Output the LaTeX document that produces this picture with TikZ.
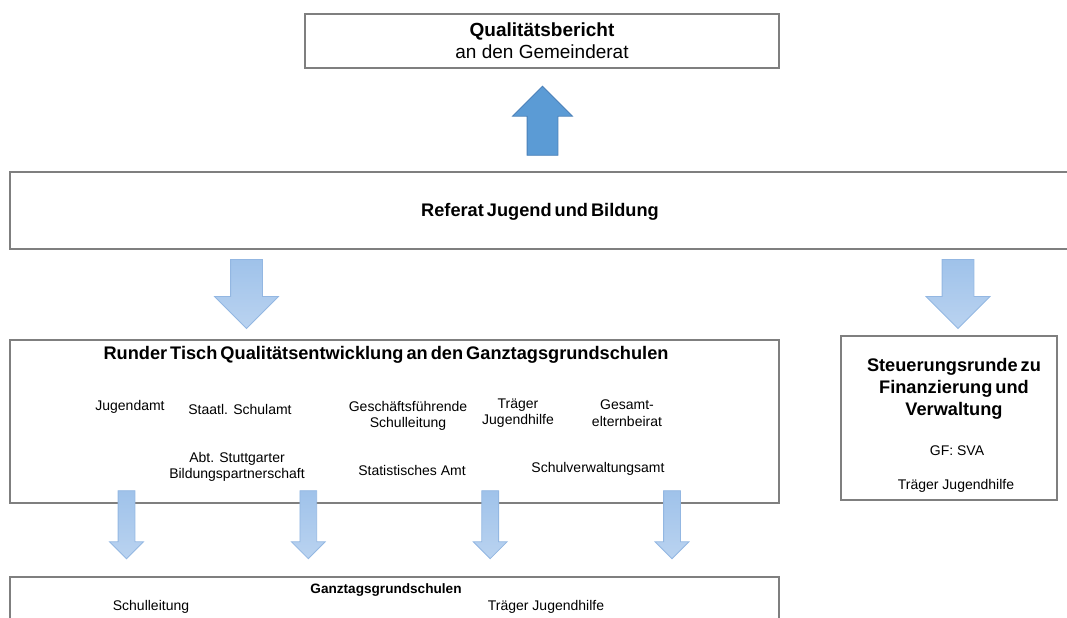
\documentclass[tikz,border=0pt]{standalone}
\usepackage{fontspec}
\setmainfont{Liberation Sans}
\newfontfamily\headfont[WordSpace=0.6]{Liberation Sans}
\usetikzlibrary{shapes.arrows}

\definecolor{boxline}{HTML}{7F7F7F}
\definecolor{darkblue}{HTML}{5B9BD5}
\definecolor{darkedge}{HTML}{4A80B8}
\definecolor{lighttop}{HTML}{9FC2EA}
\definecolor{lightbot}{HTML}{BAD3F0}
\definecolor{lightedge}{HTML}{93B7E2}

\begin{document}
\begin{tikzpicture}[x=0.5pt, y=-0.5pt,
    box/.style = {draw=boxline, line width=0.75pt, rectangle, inner sep=0pt},
    head/.style = {font=\headfont\bfseries\fontsize{9.1}{11}\selectfont, align=center, inner sep=0pt},
    item/.style = {font=\fontsize{7}{8.2}\selectfont, align=center, inner sep=0pt},
    uparrow/.style = {single arrow, shape border rotate=90, draw=darkedge, fill=darkblue,
        inner sep=7.5pt, single arrow head extend=7.25pt, minimum height=34.5pt},
    downarrow/.style = {single arrow, shape border rotate=270, draw=lightedge,
        top color=lighttop, bottom color=lightbot,
        inner sep=7.75pt, single arrow head extend=8pt, minimum height=34.5pt},
    smallarrow/.style = {downarrow, inner sep=4pt, single arrow head extend=4.25pt, minimum height=34pt}]
    \useasboundingbox (0,0) rectangle (1067,617);
    % boxes
    \node[box, minimum width=237pt, minimum height=27pt] (bericht) at (542,41) {};
    \node[box, minimum width=535pt, minimum height=38.5pt] (referat) at (545,210.5) {};
    \node[box, minimum width=384.5pt, minimum height=81.5pt] (tisch) at (394.5,421.5) {};
    \node[box, minimum width=108pt, minimum height=82pt] (steuerung) at (949,418) {};
    \node[box, minimum width=384.5pt, minimum height=31.5pt] (schulen) at (394.5,608.5) {};
    % texts
    \node[head, font=\bfseries\fontsize{9.5}{11}\selectfont] (berichttext) at (542,41) {Qualitätsbericht\\\mdseries an den Gemeinderat};
    \node[head] (referattext) at (540,212) {Referat Jugend und Bildung};
    \node[head] (tischtext) at (386,355) {Runder Tisch Qualitätsentwicklung an den Ganztagsgrundschulen};
    \node[item] (jugendamt) at (130,407) {Jugendamt};
    \node[item] (schulamt) at (240,409) {Staatl. Schulamt};
    \node[item] (gsl) at (408,416) {Geschäftsführende\\Schulleitung};
    \node[item] (traeger) at (518,413) {Träger\\Jugendhilfe};
    \node[item] (geb) at (627,413) {Gesamt-\\elternbeirat};
    \node[item] (sbp) at (237,467) {Abt. Stuttgarter\\Bildungspartnerschaft};
    \node[item] (stat) at (412,470) {Statistisches Amt};
    \node[item] (sva) at (598,469) {Schulverwaltungsamt};
    \node[head, font=\headfont\bfseries\fontsize{9.1}{11}\selectfont] (steuerungtext) at (954,389) {Steuerungsrunde zu\\Finanzierung und\\Verwaltung};
    \node[item] (gf) at (957,451) {GF: SVA};
    \node[item] (steuerungtraeger) at (956,486) {Träger Jugendhilfe};
    \node[head, font=\bfseries\fontsize{6.8}{8}\selectfont] (schulentext) at (386,590) {Ganztagsgrundschulen};
    \node[item] (schulleitung) at (151,607) {Schulleitung};
    \node[item] (schultraeger) at (546,607) {Träger Jugendhilfe};
    % arrows
    \node[uparrow] (up) at (542.5,128.5) {};
    \node[downarrow] (down1) at (246.5,286) {};
    \node[downarrow] (down2) at (958,286) {};
    \foreach \x [count=\i] in {126.5,308.3,490.2,672}
        \node[smallarrow] (small\i) at (\x,520.5) {};
\end{tikzpicture}
\end{document}
